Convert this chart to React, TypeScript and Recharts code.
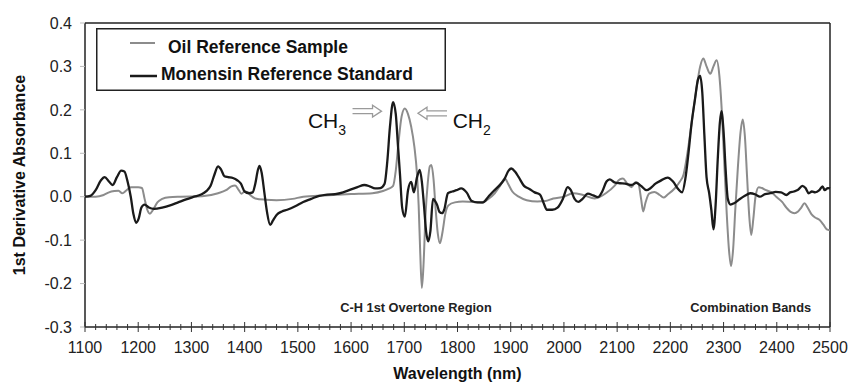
import { LineChart, Line, XAxis, YAxis, ReferenceLine, ReferenceDot, Legend } from "recharts";

// spectra (nm / 1st derivative absorbance)
const oilNm = [
  1100, 1120, 1135, 1145, 1155, 1163, 1170, 1178, 1186, 1200, 1207, 1212, 1217, 1222, 1228, 1236, 1245, 1258,
  1280, 1320, 1350, 1365, 1375, 1382, 1389, 1394, 1400, 1405, 1412, 1420, 1440, 1460, 1490, 1510, 1550, 1600,
  1640, 1660, 1670, 1679, 1684, 1689, 1695, 1701, 1707, 1713, 1719, 1724, 1727, 1730, 1733, 1736, 1740, 1744,
  1748, 1751, 1755, 1759, 1763, 1767, 1772, 1777, 1783, 1795, 1810, 1830, 1845, 1858, 1870, 1880, 1889, 1895,
  1903, 1915, 1930, 1950, 1965, 1980, 2000, 2017, 2036, 2058, 2080, 2095, 2105, 2111, 2118, 2127, 2135, 2140,
  2145, 2149, 2153, 2160, 2170, 2180, 2187, 2195, 2208, 2218, 2225, 2232, 2240, 2248, 2256, 2262, 2268, 2275,
  2281, 2287, 2292, 2297, 2302, 2306, 2310, 2314, 2318, 2322, 2327, 2332, 2336, 2340, 2344, 2348, 2352, 2356,
  2360, 2366, 2372, 2380, 2390, 2399, 2410, 2418, 2426, 2433, 2440, 2446, 2452, 2458, 2465, 2472, 2480, 2488,
  2494, 2500,
];
const oilAbs = [
  0.0, 0.0, 0.004, 0.01, 0.013, 0.014, 0.008, 0.015, 0.022, 0.022, 0.02, -0.005, -0.03, -0.039, -0.03, -0.013, -0.005, -0.001,
  0.0, 0.001, 0.008, 0.015, 0.024, 0.026, 0.015, 0.007, 0.012, 0.011, 0.002, -0.004, -0.007, -0.008, -0.005, 0.0, 0.003, 0.006,
  0.008, 0.013, 0.018, 0.025, 0.06, 0.123, 0.185, 0.203, 0.19, 0.161, 0.115, 0.05, -0.02, -0.13, -0.21, -0.16, -0.04, 0.03,
  0.07, 0.073, 0.04, -0.03, -0.085, -0.107, -0.08, -0.04, -0.02, -0.013, -0.011, -0.012, -0.014, -0.005, 0.008, 0.025, 0.042, 0.03,
  0.012, 0.0, -0.008, -0.011, -0.01, -0.004, 0.0, 0.008, 0.004, -0.004, 0.009, 0.025, 0.04, 0.042, 0.032, 0.022, 0.034, 0.03,
  -0.005, -0.034, -0.015, 0.007, 0.011, 0.004, -0.002, 0.005, 0.019, 0.035, 0.052, 0.1, 0.17, 0.24, 0.3, 0.318, 0.3, 0.283,
  0.3, 0.314, 0.28, 0.19, 0.06, -0.04, -0.12, -0.16, -0.12, -0.03, 0.07, 0.15, 0.178, 0.14, 0.05, -0.04, -0.088, -0.05,
  0.0, 0.022, 0.02, 0.015, 0.01, 0.0, -0.012, -0.025, -0.035, -0.038, -0.034, -0.025, -0.015, -0.025, -0.04, -0.048, -0.053, -0.065,
  -0.075, -0.077,
];

const monNm = [
  1100, 1110, 1120, 1130, 1137, 1145, 1152, 1160, 1168, 1174, 1180, 1186, 1191, 1196, 1201, 1206, 1212, 1220,
  1230, 1245, 1260, 1275, 1290, 1305, 1318, 1328, 1336, 1343, 1350, 1356, 1362, 1369, 1378, 1386, 1393, 1400,
  1408, 1415, 1420, 1425, 1428, 1432, 1437, 1442, 1448, 1453, 1460, 1470, 1480, 1495, 1510, 1525, 1540, 1555,
  1570, 1585, 1600, 1612, 1625, 1635, 1645, 1655, 1663, 1668, 1673, 1679, 1684, 1688, 1692, 1696, 1701, 1707,
  1713, 1718, 1724, 1729, 1733, 1737, 1741, 1745, 1749, 1754, 1758, 1762, 1766, 1771, 1775, 1782, 1790, 1798,
  1807, 1817, 1827, 1837, 1848, 1858, 1868, 1878, 1888, 1896, 1901, 1908, 1915, 1925, 1935, 1945, 1955, 1962,
  1968, 1978, 1988, 1998, 2007, 2013, 2020, 2027, 2035, 2045, 2055, 2064, 2072, 2080, 2086, 2095, 2105, 2115,
  2127, 2136, 2145, 2155, 2163, 2172, 2182, 2195, 2205, 2215, 2222, 2228, 2234, 2240, 2246, 2252, 2256, 2260,
  2264, 2268, 2273, 2277, 2281, 2285, 2289, 2293, 2296, 2300, 2304, 2308, 2313, 2320, 2330, 2340, 2350, 2360,
  2368, 2378, 2388, 2398, 2408, 2418, 2425, 2432, 2440, 2448, 2454, 2460, 2466, 2472, 2480, 2486, 2490, 2496,
  2500,
];
const monAbs = [
  0.0, 0.002, 0.015, 0.038, 0.045, 0.035, 0.027, 0.045, 0.06, 0.058, 0.035, 0.0, -0.04, -0.06, -0.05, -0.025, -0.018, -0.025,
  -0.028, -0.025, -0.02, -0.013, -0.006, 0.0, 0.005, 0.013, 0.025, 0.05, 0.07, 0.062, 0.047, 0.045, 0.043, 0.038, 0.03, 0.012,
  0.008, 0.01, 0.03, 0.062, 0.071, 0.055, 0.01, -0.035, -0.065, -0.055, -0.042, -0.034, -0.03, -0.022, -0.012, -0.005, 0.002, 0.005,
  0.006, 0.01, 0.017, 0.022, 0.027, 0.024, 0.019, 0.02, 0.03, 0.08, 0.16, 0.218, 0.19, 0.12, 0.05, -0.025, -0.046, 0.015,
  0.034, 0.01, 0.045, 0.062, 0.035, -0.02, -0.08, -0.103, -0.08, -0.005, -0.01, -0.02, -0.035, -0.038, -0.03, 0.008, 0.012, 0.015,
  0.019, 0.01, -0.01, -0.013, -0.013, 0.0, 0.013, 0.025, 0.04, 0.06, 0.065, 0.058, 0.045, 0.025, 0.018, 0.01, 0.005, -0.015,
  -0.03, -0.03, -0.025, -0.005, 0.022, 0.015, -0.005, -0.012, -0.005, 0.007, 0.003, -0.001, 0.012, 0.035, 0.04, 0.033, 0.031, 0.03,
  0.027, 0.032, 0.025, 0.015, 0.02, 0.03, 0.037, 0.044, 0.035, 0.017, 0.01, 0.04, 0.1, 0.17, 0.222, 0.27, 0.278, 0.24,
  0.14, 0.045, 0.008, -0.03, -0.075, -0.02, 0.085, 0.17, 0.197, 0.15, 0.06, -0.005, -0.018, -0.015, -0.006, 0.002, 0.008, 0.005,
  0.0, 0.006, 0.008, 0.011, 0.01, 0.004, 0.01, 0.012, 0.016, 0.025, 0.02, 0.008, 0.012, 0.01, 0.015, 0.024, 0.015, 0.02,
  0.019,
];

const seriesNames = ["Oil Reference Sample", "Monensin Reference Standard"];
const xMajorTicks = [1100, 1200, 1300, 1400, 1500, 1600, 1700, 1800, 1900, 2000, 2100, 2200, 2300, 2400, 2500];
const yTicks = [-0.3, -0.2, -0.1, 0, 0.1, 0.2, 0.3, 0.4];

const oilData = oilNm.map((nm, i) => ({ nm, abs: oilAbs[i] }));
const monData = monNm.map((nm, i) => ({ nm, abs: monAbs[i] }));
// minor ticks every 20 nm between the labelled ones
const xTicks = xMajorTicks.flatMap((t, i) =>
  i === xMajorTicks.length - 1 ? [t] : [t, t + 20, t + 40, t + 60, t + 80]
);

const FONT = "'Liberation Sans', Arial, Helvetica, sans-serif";

function WaveTick({ x, y, payload }: any) {
  const major = payload.value % 100 === 0;
  return (
    <g>
      <line x1={x} x2={x} y1={y - (major ? 5 : 3)} y2={y + (major ? 5 : 3)} stroke="#333" strokeWidth={1} />
      {major && (
        <text x={x} y={y + 26} textAnchor="middle" fontSize={16} fill="#222" fontFamily={FONT}>
          {payload.value}
        </text>
      )}
    </g>
  );
}

// hollow double arrow, pointing right (dir 1) or left (dir -1)
function HollowArrow({ cx, cy, dir }: any) {
  const half = 14.5;
  const x0 = cx - dir * half;
  const x1 = cx + dir * half;
  const xh = cx + dir * (half - 9);
  const d = `M${x0},${cy - 2.5} L${xh},${cy - 2.5} L${xh},${cy - 6} L${x1},${cy} L${xh},${cy + 6} L${xh},${cy + 2.5} L${x0},${cy + 2.5}`;
  return <path d={d} fill="#fff" stroke="#9a9a9a" strokeWidth={1.3} />;
}

function Chem({ cx, cy, sub }: any) {
  return (
    <text x={cx} y={cy} fontSize={21} fill="#111" fontFamily={FONT}>
      CH<tspan fontSize={14} dy={7}>{sub}</tspan>
    </text>
  );
}

function Note({ cx, cy, text }: any) {
  return (
    <text x={cx} y={cy} textAnchor="middle" fontSize={12.8} fontWeight="bold" fill="#222" fontFamily={FONT}>
      {text}
    </text>
  );
}

const legendRows = [
  { lx1: 34, lx2: 59, ly: 15, tx: 72, ty: 25, w: 2 },
  { lx1: 34, lx2: 61, ly: 48, tx: 65, ty: 52, w: 2.5 },
];

function LegendBox({ payload }: any) {
  const items = seriesNames.map((n) => (payload || []).find((p: any) => p.value === n)).filter(Boolean);
  return (
    <svg width={350} height={63} style={{ display: "block" }}>
      <rect x={0.75} y={0.75} width={348.5} height={61.5} fill="#fff" stroke="#222" strokeWidth={1.5} />
      {items.map((p: any, i: number) => {
        const r = legendRows[i];
        return (
          <g key={i}>
            <line x1={r.lx1} x2={r.lx2} y1={r.ly} y2={r.ly} stroke={p.color} strokeWidth={r.w} />
            <text x={r.tx} y={r.ty} fontSize={17.5} fontWeight="bold" fill="#111" fontFamily={FONT}>
              {p.value}
            </text>
          </g>
        );
      })}
    </svg>
  );
}

export default function App() {
  return (
    <div style={{ position: "absolute", left: 0, top: 0, width: 850, height: 386, background: "#fff" }}>
      <LineChart width={850} height={386} margin={{ top: 23, right: 20, bottom: 9, left: 0 }}>
        <XAxis
          dataKey="nm"
          type="number"
          domain={[1100, 2500]}
          ticks={xTicks}
          interval={0}
          allowDuplicatedCategory={false}
          height={50}
          tickSize={0}
          tickMargin={0}
          tickLine={false}
          tick={<WaveTick />}
          axisLine={{ stroke: "#222", strokeWidth: 1.5 }}
          label={{
            content: ({ viewBox }: any) => (
              <text
                x={viewBox.x + viewBox.width / 2}
                y={viewBox.y + 52}
                textAnchor="middle"
                fontSize={16}
                fontWeight="bold"
                fill="#111"
                fontFamily={FONT}
              >
                Wavelength (nm)
              </text>
            ),
          }}
        />
        <YAxis
          type="number"
          domain={[-0.3, 0.4]}
          ticks={yTicks}
          interval={0}
          width={85}
          tickSize={5}
          tickMargin={8}
          tickFormatter={(v: number) => v.toFixed(1)}
          tick={{ fontSize: 16, fill: "#222", fontFamily: FONT }}
          tickLine={{ stroke: "#bbb" }}
          axisLine={{ stroke: "#222", strokeWidth: 1.5 }}
          label={{
            content: ({ viewBox }: any) => {
              const cy = viewBox.y + viewBox.height / 2;
              return (
                <text
                  x={25}
                  y={cy}
                  transform={`rotate(-90, 25, ${cy})`}
                  textAnchor="middle"
                  fontSize={16}
                  fontWeight="bold"
                  fill="#111"
                  fontFamily={FONT}
                >
                  1st Derivative Absorbance
                </text>
              );
            },
          }}
        />
        <ReferenceLine y={0.4} stroke="#222" strokeWidth={1.5} />
        <ReferenceLine x={2500} stroke="#222" strokeWidth={1.5} />
        <Legend
          layout="vertical"
          align="center"
          verticalAlign="middle"
          wrapperStyle={{ left: 96, top: 28, width: 350, height: 63 }}
          content={<LegendBox />}
        />
        <Line
          data={oilData}
          dataKey="abs"
          name={seriesNames[0]}
          type="monotone"
          stroke="#8c8c8c"
          strokeWidth={2}
          dot={false}
          isAnimationActive={false}
        />
        <Line
          data={monData}
          dataKey="abs"
          name={seriesNames[1]}
          type="monotone"
          stroke="#1a1a1a"
          strokeWidth={2.3}
          dot={false}
          isAnimationActive={false}
        />
        <ReferenceDot x={1519} y={0.158} r={1} shape={(p: any) => <Chem cx={p.cx} cy={p.cy} sub="3" />} />
        <ReferenceDot x={1791} y={0.158} r={1} shape={(p: any) => <Chem cx={p.cx} cy={p.cy} sub="2" />} />
        <ReferenceDot x={1630} y={0.197} r={1} shape={(p: any) => <HollowArrow cx={p.cx} cy={p.cy} dir={1} />} />
        <ReferenceDot x={1753} y={0.192} r={1} shape={(p: any) => <HollowArrow cx={p.cx} cy={p.cy} dir={-1} />} />
        <ReferenceDot x={1722} y={-0.265} r={1} shape={(p: any) => <Note cx={p.cx} cy={p.cy} text="C-H 1st Overtone Region" />} />
        <ReferenceDot x={2351} y={-0.265} r={1} shape={(p: any) => <Note cx={p.cx} cy={p.cy} text="Combination Bands" />} />
      </LineChart>
    </div>
  );
}
